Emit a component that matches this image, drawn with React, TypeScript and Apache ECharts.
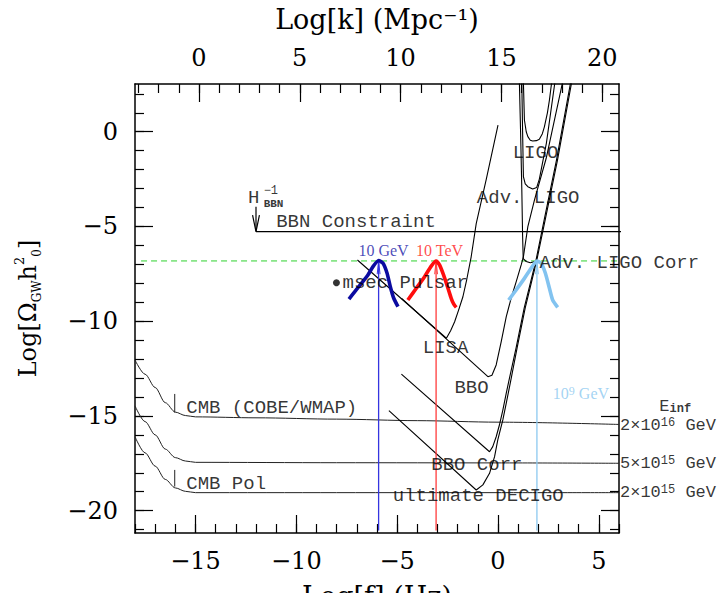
import React, { useEffect, useRef } from 'react';
import * as echarts from 'echarts';

// Axis ranges
const X_MIN = -18;
const X_MAX = 6;
const Y_MIN = -21.18;
const Y_MAX = 2.52;
const K_MIN = -3.17;
const K_MAX = 20.83;

// Tick values
const xMajor = [-15, -10, -5, 0, 5];
const xMinor = [-18, -17, -16, -15, -14, -13, -12, -11, -10, -9, -8, -7, -6, -5, -4, -3, -2, -1, 0, 1, 2, 3, 4, 5, 6];
const kMajor = [0, 5, 10, 15, 20];
const kMinor = [-3, -2, -1, 0, 1, 2, 3, 4, 5, 6, 7, 8, 9, 10, 11, 12, 13, 14, 15, 16, 17, 18, 19, 20];
const yMajor = [-20, -15, -10, -5, 0];
const yMinor = [-21, -20, -19, -18, -17, -16, -15, -14, -13, -12, -11, -10, -9, -8, -7, -6, -5, -4, -3, -2, -1, 0, 1, 2];

// CMB / inflation curves
const cmbUpper = [[-18, -12.05], [-17.5, -12.8], [-17, -13.5], [-16.5, -14.3], [-16, -14.8], [-15.5, -14.98], [-15, -15.05], [-12, -15.1], [-8, -15.17], [-4, -15.25], [0, -15.33], [6, -15.45]];
const cmbMiddle = [[-18, -14.47], [-17.5, -15.3], [-17, -16.0], [-16.5, -16.75], [-16, -17.2], [-15.5, -17.38], [-15, -17.45], [-8, -17.47], [0, -17.48], [6, -17.5]];
const cmbLower = [[-18, -16.1], [-17.5, -16.95], [-17, -17.65], [-16.5, -18.35], [-16, -18.8], [-15.5, -18.98], [-15, -19.05], [-8, -19.05], [0, -19.05], [6, -19.05]];
const cmbMark1 = [[-16.03, -13.84], [-16.03, -14.82]];
const cmbMark2 = [[-16.03, -17.85], [-16.03, -18.73]];

// BBN constraint
const bbnLine = [[-12, -5.27], [6.1, -5.27]];
const bbnArrow = [[-12, -3.96], [-12, -5.27]];
const bbnArrowHead = [[-12.17, -4.4], [-12, -5.27], [-11.83, -4.4]];

// Peak level (dashed)
const peakLevel = [[-17.7, -6.82], [6, -6.82]];

// Detector sensitivity curves
const lisa = [[-6.97, -6.77], [-2.56, -10.9], [-2.35, -10.5], [-2.15, -10.03], [-1.95, -9.4], [-1.74, -8.71], [-1.55, -7.8], [-1.33, -6.6], [-1.08, -4.85], [-0.58, -2.5], [0.0, 0.35]];
const bbo = [[-4.78, -8.8], [-0.5, -12.93], [-0.3, -12.85], [-0.09, -12.31], [0.16, -11.08], [0.41, -9.76], [0.65, -8.79], [0.9, -7.92], [1.15, -7.03], [1.26, -6.6], [1.48, -5.01], [1.81, -3.6], [2.39, -1.4], [3.2, 2.6]];
const bboCorr = [[-4.79, -12.79], [-0.42, -16.89], [-0.26, -16.62], [-0.09, -16.1], [0.07, -15.48], [0.24, -14.69], [0.41, -13.8], [0.55, -13.1], [0.9, -11.4], [1.3, -9.3], [1.88, -6.8], [2.3, -4.6], [2.9, -1.5], [3.6, 2.6]];
const decigo = [[-5.41, -14.72], [-1.08, -18.91], [-0.75, -18.64], [-0.42, -18.03], [-0.17, -17.15], [-0.01, -16.27], [0.24, -15.21], [0.41, -14.33], [0.62, -13.2], [0.95, -11.4], [1.35, -9.3], [1.92, -6.8], [2.35, -4.6], [2.95, -1.5], [3.65, 2.6]];
const ligo = [[1.26, 2.6], [1.31, 0.62], [1.4, 0.0], [1.48, -0.26], [1.6, -0.45], [1.72, -0.49], [1.9, -0.47], [2.05, -0.4], [2.2, -0.1], [2.3, 0.26], [2.45, 1.0], [2.55, 1.67], [2.66, 2.6]];
const advLigo = [[1.18, 2.6], [1.22, 0], [1.26, -2.37], [1.35, -2.75], [1.48, -2.9], [1.72, -3.02], [1.92, -2.94], [2.05, -2.5], [2.4, -0.6], [2.82, 2.6]];
const advLigoCorr = [[1.06, 2.6], [1.12, 0], [1.18, -3], [1.22, -5.5], [1.25, -6.7], [1.4, -6.85], [1.6, -6.92], [1.85, -6.85]];

// Peaks of the GW spectra (10 GeV, 10 TeV, 10^9 GeV)
const peak10GeV = [[-7.39, -8.83], [-7.1, -8.44], [-6.77, -8.0], [-6.45, -7.56], [-6.2, -7.12], [-5.92, -6.8], [-5.7, -6.94], [-5.5, -7.47], [-5.34, -8.18], [-5.17, -8.79], [-4.96, -9.23]];
const peak10TeV = [[-4.47, -8.88], [-4.05, -8.26], [-3.64, -7.65], [-3.31, -7.09], [-3.07, -6.82], [-2.9, -7.03], [-2.7, -7.56], [-2.48, -8.26], [-2.32, -8.79], [-2.2, -9.09], [-2.07, -9.27]];
const peak1e9GeV = [[0.53, -8.88], [0.9, -8.35], [1.31, -7.74], [1.64, -7.21], [1.93, -6.82], [2.14, -6.94], [2.35, -7.47], [2.55, -8.26], [2.71, -8.88], [2.96, -9.27]];
const peakX = [-5.92, -3.07, 1.93];
const peakY = -6.82;
const lineBottom = -21.05;

// Pulsar point
const pulsar = [[-8.01, -7.97]];

// Annotations: [text, x, y]
const blackLabels: [string, number, number][] = [
  ['LIGO', 0.73, -1.11],
  ['Adv. LIGO', -1.05, -3.52],
  ['Adv. LIGO Corr', 2.06, -6.95],
  ['LISA', -3.73, -11.43],
  ['BBO', -2.16, -13.54],
  ['BBO Corr', -3.31, -17.59],
  ['ultimate DECIGO', -5.22, -19.22],
  ['CMB (COBE/WMAP)', -15.46, -14.6],
  ['CMB Pol', -15.46, -18.6],
  ['BBN Constraint', -11.0, -4.75],
  ['msec Pulsar', -7.71, -7.97],
  ['H', -12.4, -3.5],
];
const hScripts: [string, number, number][] = [
  ['{m|\u22121}\n{b|BBN}', -11.62, -3.45],
];
const einfLabels: [string, number, number][] = [
  ['E{sub|inf}', 8.0, -14.5],
  ['2\u00d710{sup|16} GeV', 6.05, -15.5],
  ['5\u00d710{sup|15} GeV', 6.05, -17.5],
  ['2\u00d710{sup|15} GeV', 6.05, -19.05],
];
const peakLabels: [string, number, number, string][] = [
  ['10 GeV', -6.92, -6.26, '#1a1aa8'],
  ['10 TeV', -4.06, -6.26, '#ff1a1a'],
  ['10{sup|9} GeV', 2.72, -13.8, '#8cc8f0'],
];

const fmt = (v: number) => (v < 0 ? '\u2212' + Math.abs(v) : String(v));
const tickFont = { fontFamily: 'DejaVu Serif', fontSize: 24, color: '#000' };
const frame = { show: true, onZero: false, lineStyle: { color: '#000', width: 1.5 } };
const tickLine = { color: '#000', width: 1.2 };

function line(data: number[][], color = '#000', width = 1, extra: any = {}) {
  return {
    type: 'line',
    data,
    xAxisIndex: 0,
    yAxisIndex: 0,
    symbol: 'none',
    showSymbol: false,
    silent: true,
    lineStyle: { color, width },
    z: 3,
    ...extra,
  };
}

export default function App() {
  const ref = useRef<HTMLDivElement>(null);
  useEffect(() => {
    const chart = echarts.init(ref.current!, null, { renderer: 'svg' });
    const series: any[] = [
      line(cmbUpper, '#222', 1, { smooth: 0.3, smoothMonotone: 'x' }),
      line(cmbMiddle, '#222', 1, { smooth: 0.3, smoothMonotone: 'x' }),
      line(cmbLower, '#222', 1, { smooth: 0.3, smoothMonotone: 'x' }),
      line(cmbMark1, '#222', 1),
      line(cmbMark2, '#222', 1),
      line(bbnLine, '#000', 1.2),
      line(bbnArrow, '#000', 1.2),
      line(bbnArrowHead, '#000', 1.2),
      line(peakLevel, '#2ed12e', 1, { lineStyle: { color: '#2ed12e', width: 1, type: [6, 4] } }),
      line(lisa, '#000', 1.1),
      line(bbo, '#000', 1.1),
      line(bboCorr, '#000', 1.1),
      line(decigo, '#000', 1.1),
      line(ligo, '#000', 1.1),
      line(advLigo, '#000', 1.1),
      line(advLigoCorr, '#000', 1.1),
    ];
    const vColors = ['#3535e0', '#ff3b3b', '#8cc8f0'];
    peakX.forEach((px, i) => {
      series.push(line([[px, lineBottom], [px, peakY]], vColors[i], 1.3, { z: 4 }));
      series.push(line([[px - 0.07, peakY - 0.7], [px, peakY], [px + 0.07, peakY - 0.7]], vColors[i], 1, { z: 4 }));
    });
    series.push(line(peak10GeV, '#0b0ba0', 3.6, { smooth: 0.2, z: 5 }));
    series.push(line(peak10TeV, '#ff0d0d', 3.6, { smooth: 0.2, z: 5 }));
    series.push(line(peak1e9GeV, '#82c3f0', 3.6, { smooth: 0.2, z: 5 }));
    series.push({
      type: 'scatter',
      data: pulsar,
      symbolSize: 7,
      itemStyle: { color: '#000' },
      silent: true,
      z: 6,
    });
    const baseLabel = {
      show: true,
      position: 'right',
      distance: 0,
      fontFamily: 'Liberation Mono',
      fontSize: 19,
      color: '#000',
      rich: {
        sup: { fontSize: 12, verticalAlign: 'top', lineHeight: 12 },
        sub: { fontSize: 12, fontWeight: 'bold', verticalAlign: 'bottom', lineHeight: 12 },
        m: { fontSize: 12, lineHeight: 13 },
        b: { fontSize: 11, fontWeight: 'bold', lineHeight: 13 },
      },
    };
    const labelSeries = (rows: [string, number, number][], extraLabel: any = {}) => ({
      type: 'scatter',
      symbolSize: 0,
      clip: false,
      silent: true,
      z: 7,
      label: { ...baseLabel, ...extraLabel, formatter: (p: any) => p.data.t },
      data: rows.map(([t, x, y]) => ({ value: [x, y], t })),
    });
    series.push(labelSeries(blackLabels));
    series.push(labelSeries(hScripts, { lineHeight: 13 }));
    series.push(labelSeries(einfLabels, { fontSize: 17 }));
    series.push({
      type: 'scatter',
      symbolSize: 0,
      clip: false,
      silent: true,
      z: 7,
      label: { ...baseLabel, fontFamily: 'Liberation Serif', fontSize: 16, formatter: (p: any) => p.data.t },
      data: peakLabels.map(([t, x, y, c]) => ({ value: [x, y], t, label: { color: c } })),
    });

    const option: any = {
      animation: false,
      backgroundColor: '#fff',
      grid: { left: 135, right: 105, top: 84, bottom: 60, show: false, containLabel: false, outerBoundsMode: 'none' },
      xAxis: [
        {
          type: 'value', position: 'bottom', min: X_MIN, max: X_MAX,
          axisLine: frame,
          axisTick: { inside: true, length: 18, customValues: xMajor, lineStyle: tickLine },
          axisLabel: { customValues: xMajor, formatter: fmt, margin: 16, ...tickFont },
          splitLine: { show: false },
          name: 'Log[f] (Hz)', nameLocation: 'middle', nameGap: 50,
          nameTextStyle: { fontFamily: 'DejaVu Serif', fontSize: 27, color: '#000', verticalAlign: 'top' },
        },
        {
          type: 'value', position: 'bottom', min: X_MIN, max: X_MAX,
          axisLine: { show: false, onZero: false },
          axisTick: { inside: true, length: 9, customValues: xMinor, lineStyle: tickLine },
          axisLabel: { show: false },
          splitLine: { show: false },
        },
        {
          type: 'value', position: 'top', min: K_MIN, max: K_MAX,
          axisLine: frame,
          axisTick: { inside: true, length: 18, customValues: kMajor, lineStyle: tickLine },
          axisLabel: { customValues: kMajor, formatter: fmt, margin: 14, ...tickFont },
          splitLine: { show: false },
          name: 'Log[k] (Mpc\u207b\u00b9)', nameLocation: 'middle', nameGap: 51,
          nameTextStyle: { fontFamily: 'DejaVu Serif', fontSize: 27, color: '#000' },
        },
        {
          type: 'value', position: 'top', min: K_MIN, max: K_MAX,
          axisLine: { show: false, onZero: false },
          axisTick: { inside: true, length: 9, customValues: kMinor, lineStyle: tickLine },
          axisLabel: { show: false },
          splitLine: { show: false },
        },
      ],
      yAxis: [
        {
          type: 'value', position: 'left', min: Y_MIN, max: Y_MAX,
          axisLine: frame,
          axisTick: { inside: true, length: 18, customValues: yMajor, lineStyle: tickLine },
          axisLabel: { customValues: yMajor, formatter: fmt, margin: 17, ...tickFont },
          splitLine: { show: false },
          name: '{a|Log[\u03a9}{s|GW}{a|h}{p|2}{s|0}{a|]}',
          nameLocation: 'middle', nameGap: 92, nameRotate: 90,
          nameTextStyle: {
            fontFamily: 'DejaVu Serif', fontSize: 24, color: '#000',
            rich: {
              a: { fontFamily: 'DejaVu Serif', fontSize: 24, lineHeight: 30 },
              s: { fontFamily: 'DejaVu Serif', fontSize: 12, verticalAlign: 'bottom', lineHeight: 12 },
              p: { fontFamily: 'DejaVu Serif', fontSize: 13, verticalAlign: 'top', lineHeight: 13 },
            },
          },
        },
        {
          type: 'value', position: 'left', min: Y_MIN, max: Y_MAX,
          axisLine: { show: false, onZero: false },
          axisTick: { inside: true, length: 9, customValues: yMinor, lineStyle: tickLine },
          axisLabel: { show: false },
          splitLine: { show: false },
        },
        {
          type: 'value', position: 'right', min: Y_MIN, max: Y_MAX,
          axisLine: frame,
          axisTick: { inside: true, length: 18, customValues: yMajor, lineStyle: tickLine },
          axisLabel: { show: false },
          splitLine: { show: false },
        },
        {
          type: 'value', position: 'right', min: Y_MIN, max: Y_MAX,
          axisLine: { show: false, onZero: false },
          axisTick: { inside: true, length: 9, customValues: yMinor, lineStyle: tickLine },
          axisLabel: { show: false },
          splitLine: { show: false },
        },
      ],
      series,
    };
    chart.setOption(option);
    return () => chart.dispose();
  }, []);
  return (
    <div
      ref={ref}
      style={{ position: 'fixed', left: 0, top: 0, width: 724, height: 593, background: '#fff' }}
    />
  );
}
